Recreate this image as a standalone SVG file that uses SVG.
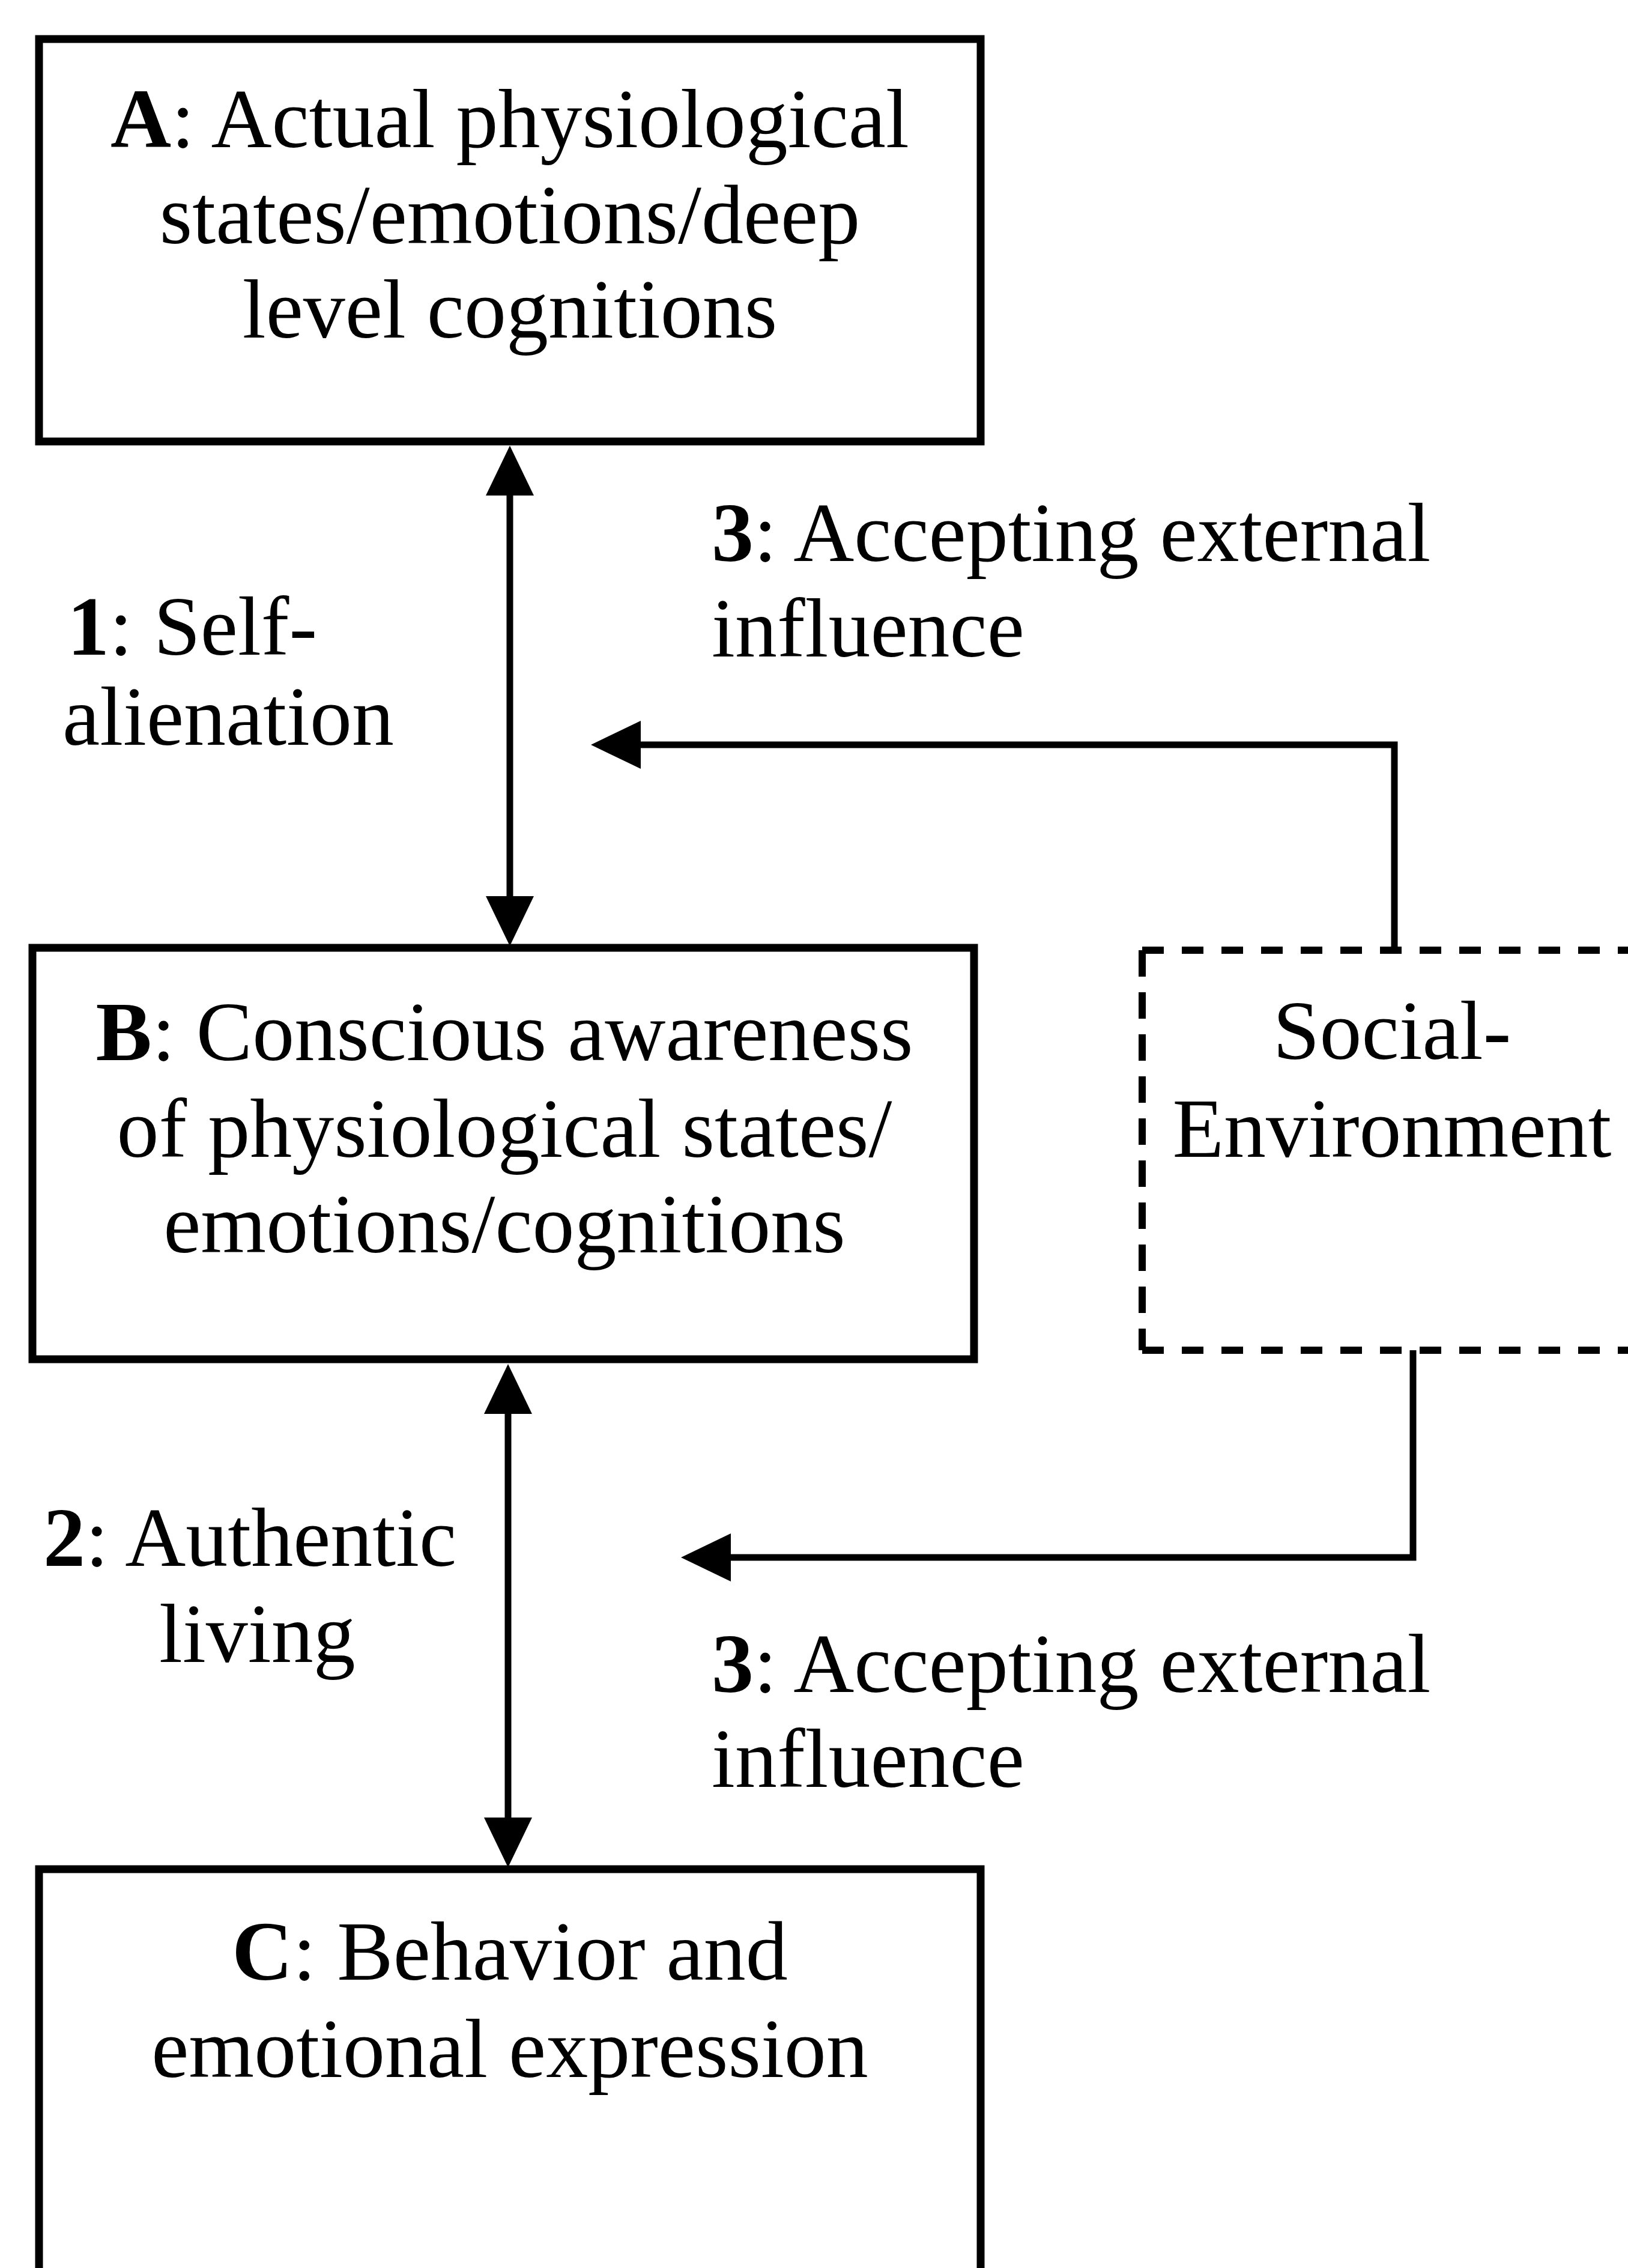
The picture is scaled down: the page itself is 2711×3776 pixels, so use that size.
<svg xmlns="http://www.w3.org/2000/svg" width="2711" height="3776" viewBox="0 0 2711 3776">
<style>
  .box { fill: none; stroke: #000; stroke-width: 13; }
  .dash { fill: none; stroke: #000; stroke-width: 12; }
  .con { fill: none; stroke: #000; stroke-width: 11; }
  text { font-family: "Liberation Serif", "Times New Roman", serif; font-size: 140px; fill: #000; }
  .c { text-anchor: middle; }
  .b { font-weight: bold; }
</style>
<defs>
  <marker id="ah" markerUnits="userSpaceOnUse" viewBox="0 0 83 80" markerWidth="83" markerHeight="80" refX="2" refY="40" orient="auto-start-reverse" overflow="visible">
    <path d="M0,0 L83,40 L0,80 Z" fill="#000"/>
  </marker>
</defs>
<rect width="2711" height="3776" fill="#fff"/>

<g id="nodeA">
  <rect class="box" x="65" y="65" width="1568" height="670"/>
  <text class="c" x="849" y="245"><tspan class="b">A</tspan>: Actual physiological</text>
  <text class="c" x="849" y="405">states/emotions/deep</text>
  <text class="c" x="849" y="562">level cognitions</text>
</g>

<g id="nodeB">
  <rect class="box" x="54" y="1578" width="1568" height="685"/>
  <text class="c" x="840" y="1765"><tspan class="b">B</tspan>: Conscious awareness</text>
  <text class="c" x="840" y="1926">of physiological states/</text>
  <text class="c" x="840" y="2085">emotions/cognitions</text>
</g>

<g id="nodeC">
  <rect class="box" x="65" y="3112" width="1568" height="700"/>
  <text class="c" x="849" y="3296"><tspan class="b">C</tspan>: Behavior and</text>
  <text class="c" x="849" y="3458">emotional expression</text>
</g>

<g id="nodeSocial">
  <path class="dash" d="M1902,1582 H2720" stroke-dasharray="36 30"/>
  <path class="dash" d="M1902,2248 H2720" stroke-dasharray="36 30"/>
  <path class="dash" d="M1902,1582 V2248" stroke-dasharray="44 26"/>
  <text class="c" x="2318" y="1763">Social-</text>
  <text class="c" x="2318" y="1926">Environment</text>
</g>

<g id="labels">
  <text x="112" y="1090"><tspan class="b">1</tspan>: Self-</text>
  <text x="104" y="1240">alienation</text>
  <text x="1185" y="934"><tspan class="b">3</tspan>: Accepting external</text>
  <text x="1185" y="1093">influence</text>
  <text x="72" y="2607"><tspan class="b">2</tspan>: Authentic</text>
  <text x="265" y="2767">living</text>
  <text x="1185" y="2817"><tspan class="b">3</tspan>: Accepting external</text>
  <text x="1185" y="2975">influence</text>
</g>

<g id="connectors">
  <path class="con" d="M849,823 V1494" marker-start="url(#ah)" marker-end="url(#ah)"/>
  <path class="con" d="M846,2352 V3028" marker-start="url(#ah)" marker-end="url(#ah)"/>
  <path class="con" d="M2322,1578 V1240 H1065" marker-end="url(#ah)"/>
  <path class="con" d="M2353,2248 V2593 H1215" marker-end="url(#ah)"/>
</g>
</svg>
